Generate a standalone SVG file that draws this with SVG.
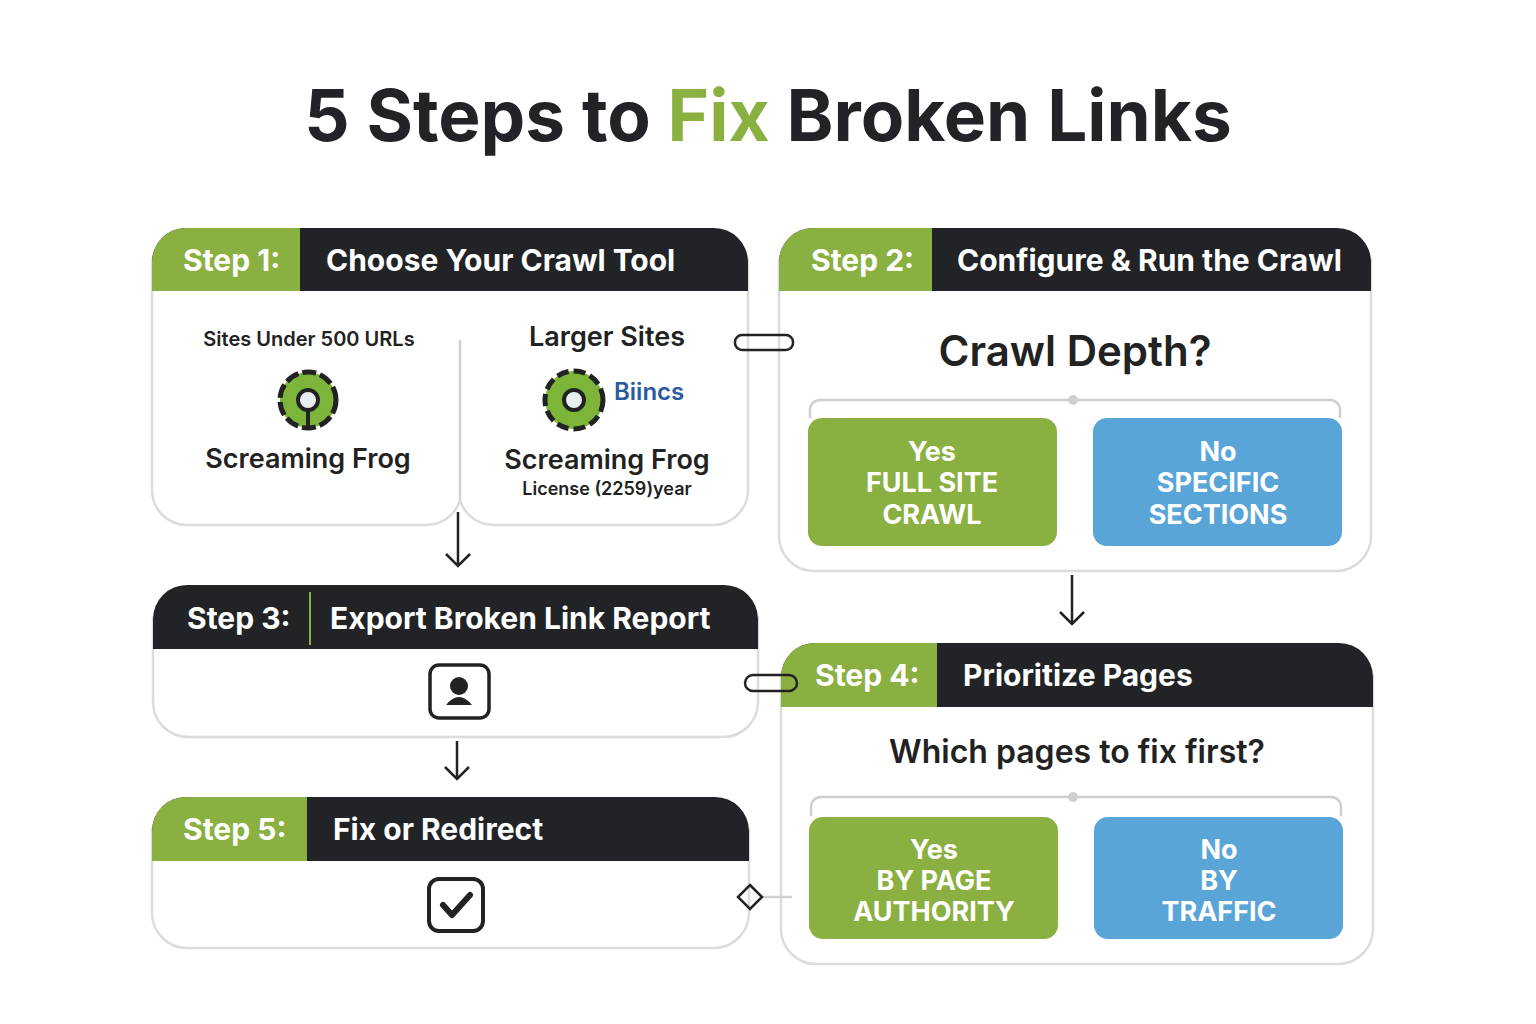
<svg xmlns="http://www.w3.org/2000/svg" width="1536" height="1024" viewBox="0 0 1536 1024">
<style>
text{font-family:Inter,"Open Sans","Liberation Sans",sans-serif;}
.card{fill:#fff;stroke:#dcdcdc;stroke-width:2.5}
.dark{fill:#222326}
.green{fill:#8bb042}
.blue{fill:#5aa5d8}
.ht{fill:#fff;font-size:30px;font-weight:700}
.ct{fill:#222;font-weight:600;text-anchor:middle}
.bt{fill:#fff;font-size:27px;font-weight:700;text-anchor:middle}
.ln{fill:none;stroke:#222;stroke-width:2.5}
.gl{fill:none;stroke:#d0d0d0;stroke-width:2.5}
</style>
<rect width="1536" height="1024" fill="#fff"/>
<text x="768" y="141" font-size="71" font-weight="700" text-anchor="middle" fill="#222326">5 Steps to <tspan fill="#8bb042">Fix</tspan> Broken Links</text>

<g id="step1">
<path class="card" d="M152,260 V490 a35,35 0 0 0 35,35 H425 a35,35 0 0 0 35,-25 a35,35 0 0 0 35,25 H713 a35,35 0 0 0 35,-35 V260 Z"/>
<path class="dark" d="M152,291 V262 a34,34 0 0 1 34,-34 H714 a34,34 0 0 1 34,34 V291 Z"/>
<path class="green" d="M152,291 V262 a34,34 0 0 1 34,-34 H300 V291 Z"/>
<text class="ht" x="183" y="271">Step 1:</text>
<text class="ht" x="326" y="271">Choose Your Crawl Tool</text>
<line class="gl" x1="460" y1="340" x2="460" y2="500"/>
<text class="ct" x="309" y="346" font-size="20">Sites Under 500 URLs</text>
<g transform="translate(308,400)">
<circle r="28" fill="#7cb53a" stroke="#222" stroke-width="5" stroke-dasharray="14 4"/>
<circle r="10" fill="#e8eef0" stroke="#222" stroke-width="4"/>
<line x1="0" y1="10" x2="0" y2="30" stroke="#222" stroke-width="4"/>
</g>
<text class="ct" x="308" y="468" font-size="27">Screaming Frog</text>
<text class="ct" x="607" y="346" font-size="27">Larger Sites</text>
<g transform="translate(574,400)">
<circle r="29" fill="#7cb53a" stroke="#222" stroke-width="5" stroke-dasharray="12 5"/>
<circle r="10" fill="#e8eef0" stroke="#222" stroke-width="4"/>
</g>
<text x="614" y="400" font-size="24" font-weight="600" fill="#2c5aa0">Biincs</text>
<text class="ct" x="607" y="469" font-size="27">Screaming Frog</text>
<text class="ct" x="607" y="495" font-size="18" font-weight="500">License (2259)year</text>
</g>

<g id="step2">
<path class="card" d="M779,260 V536 a35,35 0 0 0 35,35 H1336 a35,35 0 0 0 35,-35 V260 Z"/>
<path class="dark" d="M779,291 V262 a34,34 0 0 1 34,-34 H1337 a34,34 0 0 1 34,34 V291 Z"/>
<path class="green" d="M779,291 V262 a34,34 0 0 1 34,-34 H932 V291 Z"/>
<text class="ht" x="811" y="271">Step 2:</text>
<text class="ht" x="957" y="271">Configure &amp; Run the Crawl</text>
<text class="ct" x="1075" y="366" font-size="42">Crawl Depth?</text>
<path class="gl" d="M810,418 V410 a10,10 0 0 1 10,-10 H1330 a10,10 0 0 1 10,10 V418"/>
<circle cx="1073" cy="400" r="5" fill="#d0d0d0"/>
<rect class="green" x="808" y="418" width="249" height="128" rx="14"/>
<rect class="blue" x="1093" y="418" width="249" height="128" rx="14"/>
<text class="bt" x="932" y="461">Yes</text><text class="bt" x="932" y="492">FULL SITE</text><text class="bt" x="932" y="524">CRAWL</text>
<text class="bt" x="1218" y="461">No</text><text class="bt" x="1218" y="492">SPECIFIC</text><text class="bt" x="1218" y="524">SECTIONS</text>
</g>

<g id="step3">
<path class="card" d="M153,617 V702 a35,35 0 0 0 35,35 H723 a35,35 0 0 0 35,-35 V617 Z"/>
<path class="dark" d="M153,649 V619 a34,34 0 0 1 34,-34 H724 a34,34 0 0 1 34,34 V649 Z"/>
<line x1="310" y1="592" x2="310" y2="645" stroke="#8bb042" stroke-width="2"/>
<text class="ht" x="187" y="629">Step 3:</text>
<text class="ht" x="330" y="629">Export Broken Link Report</text>
<rect x="430" y="665" width="59" height="53" rx="9" fill="none" stroke="#222" stroke-width="3.5"/>
<circle cx="459" cy="686" r="9" fill="#222"/>
<path d="M446,705 q13,-16 26,0 Z" fill="#222"/>
</g>

<g id="step4">
<path class="card" d="M781,675 V929 a35,35 0 0 0 35,35 H1338 a35,35 0 0 0 35,-35 V675 Z"/>
<path class="dark" d="M781,707 V677 a34,34 0 0 1 34,-34 H1339 a34,34 0 0 1 34,34 V707 Z"/>
<path class="green" d="M781,707 V677 a34,34 0 0 1 34,-34 H937 V707 Z"/>
<text class="ht" x="815" y="686">Step 4:</text>
<text class="ht" x="963" y="686">Prioritize Pages</text>
<text class="ct" x="1077" y="763" font-size="32">Which pages to fix first?</text>
<path class="gl" d="M811,816 V807 a10,10 0 0 1 10,-10 H1331 a10,10 0 0 1 10,10 V816"/>
<circle cx="1073" cy="797" r="5" fill="#d0d0d0"/>
<rect class="green" x="809" y="817" width="249" height="122" rx="14"/>
<rect class="blue" x="1094" y="817" width="249" height="122" rx="14"/>
<text class="bt" x="934" y="859">Yes</text><text class="bt" x="934" y="890">BY PAGE</text><text class="bt" x="934" y="921">AUTHORITY</text>
<text class="bt" x="1219" y="859">No</text><text class="bt" x="1219" y="890">BY</text><text class="bt" x="1219" y="921">TRAFFIC</text>
</g>

<g id="step5">
<path class="card" d="M152,829 V913 a35,35 0 0 0 35,35 H714 a35,35 0 0 0 35,-35 V829 Z"/>
<path class="dark" d="M152,861 V831 a34,34 0 0 1 34,-34 H715 a34,34 0 0 1 34,34 V861 Z"/>
<path class="green" d="M152,861 V831 a34,34 0 0 1 34,-34 H307 V861 Z"/>
<text class="ht" x="183" y="840">Step 5:</text>
<text class="ht" x="333" y="840">Fix or Redirect</text>
<rect x="429" y="879" width="54" height="52" rx="10" fill="none" stroke="#222" stroke-width="4"/>
<path d="M443,905 l9,10 l18,-20" fill="none" stroke="#222" stroke-width="6" stroke-linecap="round" stroke-linejoin="round"/>
</g>

<g id="connectors">
<path class="ln" d="M458,512 V566 M446,554 L458,566 L470,554"/>
<path class="ln" d="M1072,575 V624 M1060,612 L1072,624 L1084,612"/>
<path class="ln" d="M457,741 V779 M445,767 L457,779 L469,767"/>
<rect class="ln" x="735" y="335" width="58" height="15" rx="7"/>
<rect class="ln" x="745" y="675" width="52" height="16" rx="8"/>
<line class="gl" x1="760" y1="897" x2="792" y2="897"/>
<path class="ln" d="M750,885 L762,897 L750,909 L738,897 Z"/>
</g>
</svg>
